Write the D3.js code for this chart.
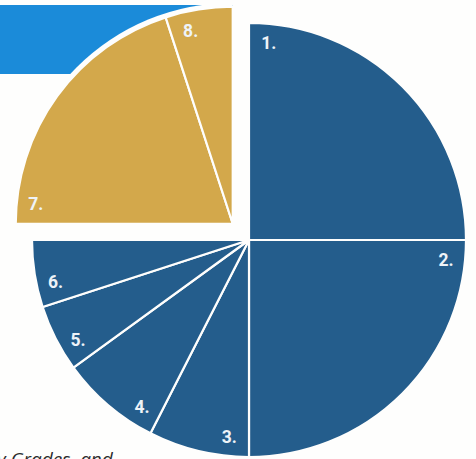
<!DOCTYPE html>
<html lang="en">
  <head>
    <meta charset="UTF-8" />
    <title>Pie</title>
    <style>
      html, body { margin: 0; padding: 0; background: #fefefd; }
      svg { display: block; }
      .lbl { font-family: Roboto, "DejaVu Sans", sans-serif; font-weight: 700; font-size: 17.5px; fill: #eef3f8; }
      .caption { font-family: "Open Sans", sans-serif; font-style: italic; font-size: 19px; fill: #2c2c2c; }
    </style>
  </head>
  <body>
    <div id="chart"></div>

    <script src="https://cdn.jsdelivr.net/npm/d3@7"></script>
    <script>

      // slice data, clockwise from 12 o'clock
      var labels = ["1.", "2.", "3.", "4.", "5.", "6.", "7.", "8."];
      var shares = [25, 25, 7.5, 7.5, 5, 5, 20, 5];
      var groups = ["blue", "blue", "blue", "blue", "blue", "blue", "gold", "gold"];
      var captionText = "y Grades, and";

      var w = 476,
          h = 459;
      var cx = 249,
          cy = 240,
          R = 217;
      var explode = 23;

      var colors = { blue: "#245d8c", gold: "#d3a84b" };

      var rows = labels.map(function(d, i) {
        return { label: d, value: shares[i], group: groups[i] };
      });

      var svg = d3.select("#chart").append("svg")
        .attr("width", w)
        .attr("height", h);

      var pie = d3.pie()
        .sort(null)
        .value(function(d) { return d.value; });
      var slices = pie(rows);

      var arc = d3.arc()
        .innerRadius(0)
        .outerRadius(R);

      // gold group offset along its middle angle
      var goldSlices = slices.filter(function(d) { return d.data.group == "gold"; });
      var g0 = d3.min(goldSlices, function(d) { return d.startAngle; });
      var g1 = d3.max(goldSlices, function(d) { return d.endAngle; });
      var gm = (g0 + g1) / 2;
      var gdx = Math.sin(gm) * explode,
          gdy = -Math.cos(gm) * explode;

      // bright blue band behind the gold part
      svg.append("rect")
         .attr("x", 0)
         .attr("y", 5)
         .attr("width", cx + gdx)
         .attr("height", 69)
         .attr("fill", "#1b8bd9");

      var gGold = svg.append("g")
         .attr("transform", "translate(" + (cx + gdx) + "," + (cy + gdy) + ")");
      var gBlue = svg.append("g")
         .attr("transform", "translate(" + cx + "," + cy + ")");

      // white halo so the band stops short of the arc
      gGold.append("path")
         .attr("d", d3.arc()({ innerRadius: 0, outerRadius: R + 4, startAngle: g0, endAngle: g1 }))
         .attr("fill", "#fefefd");

      function draw(g, data) {
        g.selectAll("path.slice")
         .data(data)
         .enter()
         .append("path")
         .attr("class", "slice")
         .attr("d", arc)
         .attr("fill", function(d) { return colors[d.data.group]; })
         .attr("stroke", "#fefefd")
         .attr("stroke-width", 2.2)
         .attr("stroke-linejoin", "round");

        // number sits near the rim, just past the slice's start edge
        g.selectAll("text.lbl")
         .data(data)
         .enter()
         .append("text")
         .attr("class", "lbl")
         .attr("text-anchor", "middle")
         .attr("dy", "0.36em")
         .attr("x", function(d) { return Math.sin(d.startAngle + 0.1) * 198; })
         .attr("y", function(d) { return -Math.cos(d.startAngle + 0.1) * 198; })
         .text(function(d) { return d.data.label; });
      }

      draw(gGold, goldSlices);
      draw(gBlue, slices.filter(function(d) { return d.data.group == "blue"; }));

      svg.append("text")
         .attr("class", "caption")
         .attr("x", -3)
         .attr("y", 466)
         .text(captionText);

    </script>
  </body>
</html>
